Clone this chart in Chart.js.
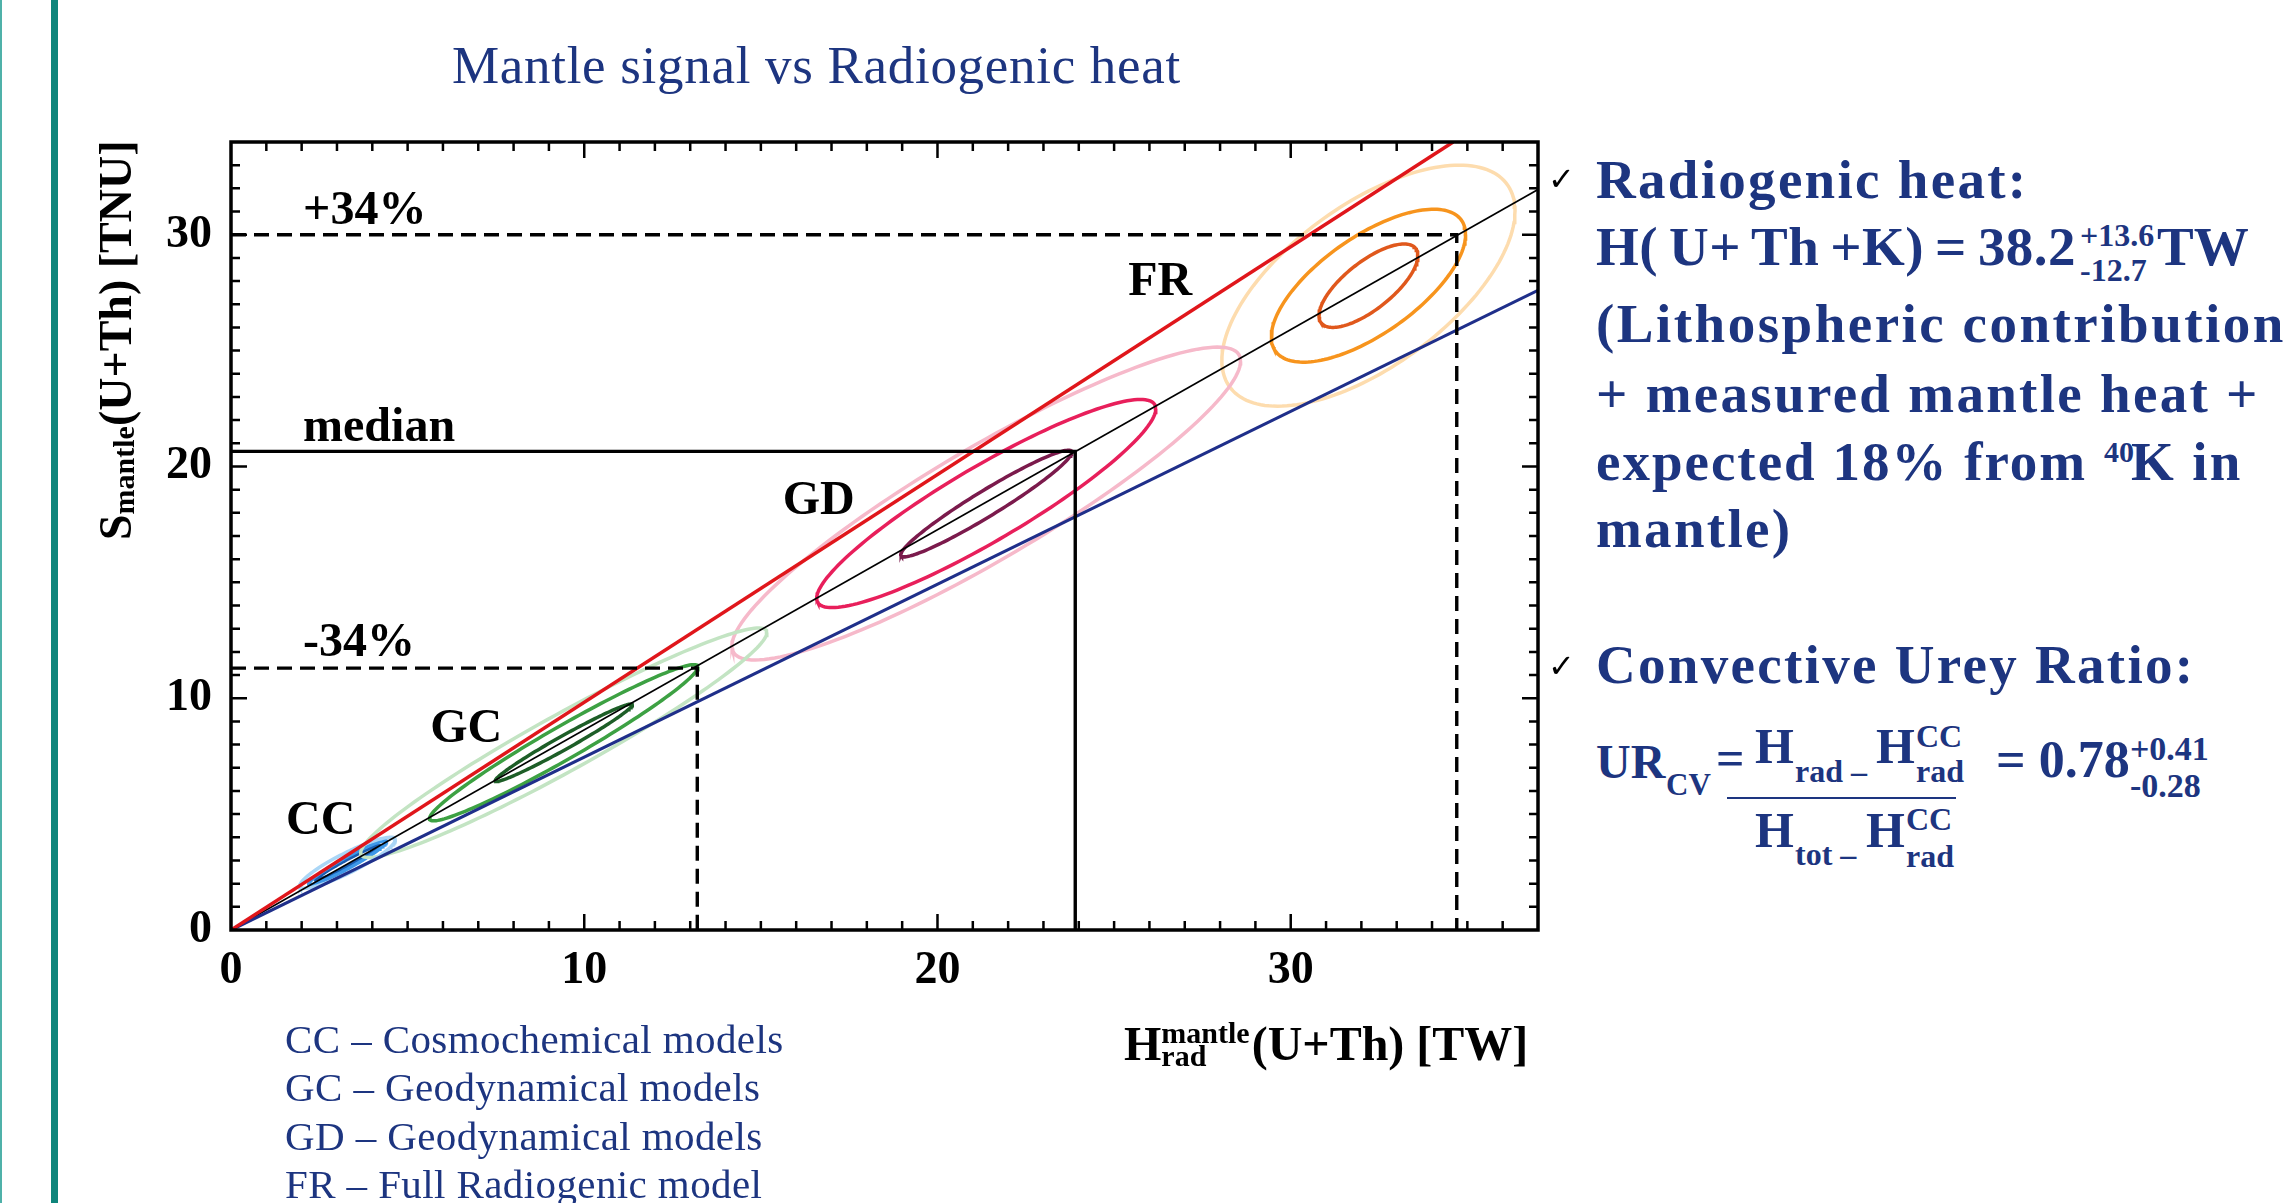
<!DOCTYPE html>
<html>
<head>
<meta charset="utf-8">
<title>Mantle signal vs Radiogenic heat</title>
<script src="https://cdn.jsdelivr.net/npm/chart.js@4.4.1/dist/chart.umd.min.js"></script>
<style>
    html, body { margin: 0; padding: 0; background: #fff; }
    body { width: 2294px; height: 1203px; position: relative; overflow: hidden; font-family: 'Liberation Serif', serif; }
    #plot { position: absolute; left: 0; top: 0; }
    .bar { position: absolute; top: 0; bottom: 0; }
    .txt { position: absolute; white-space: nowrap; line-height: 1; color: #1d3580; }
</style>
</head>
<body>
<div class="bar" style="left:0;width:2px;background:#4fb1a9"></div>
<div class="bar" style="left:51px;width:7px;background:#0f857b"></div>
<canvas id="plot" width="1580" height="1100"></canvas>
<script>
// axes
const heatMax = 37;
const signalMax = 34;
const heatTicks = [0, 10, 20, 30];
const signalTicks = [0, 10, 20, 30];

// model contours (CC, GC, GD, FR), levels inner -> outer
const models = ['CC', 'GC', 'GD', 'FR'];
const heatCenter = [3.3, 9.42, 21.38, 32.2];
const signalCenter = [2.9, 8.08, 18.4, 27.8];
const heatHalf = [[0.9, 1.1, 1.35], [1.94, 3.8, 5.75], [2.42, 4.8, 7.2], [1.4, 2.75, 4.15]];
const signalHalf = [[0.75, 0.95, 1.1], [1.67, 3.37, 4.95], [2.3, 4.49, 6.75], [1.8, 3.3, 5.2]];
const correlation = [[0.98, 0.96, 0.9], [0.98, 0.97, 0.96], [0.96, 0.91, 0.91], [0.72, 0.67, 0.62]];

// straight lines through the origin
const upperHeat = [0, 34.6];
const upperSignal = [0, 34];
const lowerHeat = [0, 37];
const lowerSignal = [0, 27.6];
const centralHeat = [0, 37];
const centralSignal = [0, 31.95];

// +34% / median / -34%
const levelNames = ['+34%', 'median', '-34%'];
const levelSignal = [30, 20.65, 11.3];
const levelHeat = [34.7, 23.9, 13.2];

const legendLines = ['CC – Cosmochemical models', 'GC – Geodynamical models', 'GD – Geodynamical models', 'FR – Full Radiogenic model'];

// styles
const contourColors = [
    ['#1a5cb0', '#3d98e8', '#aad6f6'],
    ['#1d5e27', '#3da143', '#c3e4c3'],
    ['#7b1a4c', '#e81f5b', '#f6b9ca'],
    ['#e0581c', '#f7941d', '#fddcae']
];
const plotLabels = [
    { text: levelNames[0], x: 2.04, y: 30.45 },
    { text: levelNames[1], x: 2.04, y: 21.1 },
    { text: levelNames[2], x: 2.04, y: 11.84 },
    { text: models[3], x: 25.4, y: 27.4 },
    { text: models[2], x: 15.62, y: 17.96 },
    { text: models[1], x: 5.64, y: 8.11 },
    { text: models[0], x: 1.56, y: 4.16 }
];
const serif = '"Liberation Serif", serif';

function toPoints(xs, ys) {
    let pts = [];
    for (let i = 0; i < xs.length; i++) {
        pts.push({ x: xs[i], y: ys[i] });
    }
    return pts;
}

function contourPoints(cx, cy, hx, hy, rho) {
    let phi = Math.acos(rho);
    let pts = [];
    for (let i = 0; i <= 160; i++) {
        let t = i / 160 * 2 * Math.PI;
        pts.push({ x: cx + hx * Math.cos(t), y: cy + hy * Math.cos(t - phi) });
    }
    return pts;
}

function lineSet(points, color, width, dash, order) {
    return {
        data: points,
        showLine: true,
        borderColor: color,
        borderWidth: width,
        borderDash: dash,
        pointRadius: 0,
        fill: false,
        tension: 0,
        order: order
    };
}

let datasets = [];
for (let m = 0; m < models.length; m++) {
    for (let k = 0; k < 3; k++) {
        let pts = contourPoints(heatCenter[m], signalCenter[m], heatHalf[m][k], signalHalf[m][k], correlation[m][k]);
        datasets.push(lineSet(pts, contourColors[m][k], 3.5, [], 30 - k * 5));
    }
}
datasets.push(lineSet(toPoints(centralHeat, centralSignal), '#000', 1.6, [], 6));
datasets.push(lineSet(toPoints(upperHeat, upperSignal), '#e0161b', 3.5, [], 5));
datasets.push(lineSet(toPoints(lowerHeat, lowerSignal), '#1f2f8a', 3.2, [], 5));
for (let i = 0; i < levelNames.length; i++) {
    let pts = toPoints([0, levelHeat[i], levelHeat[i]], [levelSignal[i], levelSignal[i], 0]);
    let dash = levelNames[i] == 'median' ? [] : [15, 8];
    datasets.push(lineSet(pts, '#000', 3.4, dash, 1));
}

// inward ticks, frame, labels and axis titles
const framePlugin = {
    id: 'framePlugin',
    afterDatasetsDraw(chart) {
        let ctx = chart.ctx;
        let a = chart.chartArea;
        let xs = chart.scales.x;
        let ys = chart.scales.y;
        ctx.save();
        ctx.strokeStyle = '#000';
        ctx.lineWidth = 2.5;
        ctx.beginPath();
        for (let v = 1; v < heatMax; v++) {
            let px = xs.getPixelForValue(v);
            let len = v % 10 == 0 ? 16 : 9;
            ctx.moveTo(px, a.bottom); ctx.lineTo(px, a.bottom - len);
            ctx.moveTo(px, a.top); ctx.lineTo(px, a.top + len);
        }
        for (let v = 1; v < signalMax; v++) {
            let py = ys.getPixelForValue(v);
            let len = v % 10 == 0 ? 16 : 9;
            ctx.moveTo(a.left, py); ctx.lineTo(a.left + len, py);
            ctx.moveTo(a.right, py); ctx.lineTo(a.right - len, py);
        }
        ctx.stroke();
        ctx.lineWidth = 3.5;
        ctx.strokeRect(a.left, a.top, a.right - a.left, a.bottom - a.top);

        ctx.fillStyle = '#000';
        ctx.font = 'bold 48px ' + serif;
        ctx.textAlign = 'left';
        ctx.textBaseline = 'alphabetic';
        plotLabels.forEach(l => {
            ctx.fillText(l.text, xs.getPixelForValue(l.x), ys.getPixelForValue(l.y));
        });
        ctx.restore();
    },
    afterDraw(chart) {
        let ctx = chart.ctx;
        ctx.save();
        ctx.fillStyle = '#000';
        ctx.textAlign = 'left';
        ctx.textBaseline = 'alphabetic';

        // y title, rotated
        ctx.translate(131, 540);
        ctx.rotate(-Math.PI / 2);
        let pos = 0;
        ctx.font = 'bold 46px ' + serif;
        ctx.fillText('S', pos, 0);
        pos += ctx.measureText('S').width;
        ctx.font = 'bold 30px ' + serif;
        ctx.fillText('mantle', pos, 3);
        pos += ctx.measureText('mantle').width;
        ctx.font = 'bold 46px ' + serif;
        ctx.fillText('(U+Th) [TNU]', pos, 0);
        ctx.setTransform(1, 0, 0, 1, 0, 0);

        // x title
        let x = 1124;
        ctx.font = 'bold 48px ' + serif;
        ctx.fillText('H', x, 1060);
        x += ctx.measureText('H').width;
        ctx.font = 'bold 30px ' + serif;
        ctx.fillText('mantle', x, 1043);
        ctx.fillText('rad', x, 1066);
        x += ctx.measureText('mantle').width + 2;
        ctx.font = 'bold 48px ' + serif;
        ctx.fillText('(U+Th) [TW]', x, 1060);
        ctx.restore();
    }
};

new Chart(document.getElementById('plot'), {
    type: 'scatter',
    data: { datasets: datasets },
    options: {
        responsive: false,
        animation: false,
        devicePixelRatio: 1,
        layout: { padding: { left: 0, top: 142, right: 42, bottom: 0 } },
        plugins: { legend: { display: false }, tooltip: { enabled: false } },
        scales: {
            x: {
                type: 'linear',
                min: 0,
                max: heatMax,
                grid: { display: false, drawTicks: false },
                border: { display: false },
                afterBuildTicks: s => { s.ticks = heatTicks.map(v => ({ value: v })); },
                afterFit: s => { s.height = 170; },
                ticks: { padding: 14, color: '#000', font: { family: serif, size: 46, weight: 'bold' } }
            },
            y: {
                type: 'linear',
                min: 0,
                max: signalMax,
                grid: { display: false, drawTicks: false },
                border: { display: false },
                afterBuildTicks: s => { s.ticks = signalTicks.map(v => ({ value: v })); },
                afterFit: s => { s.width = 231; },
                ticks: { padding: 19, color: '#000', font: { family: serif, size: 46, weight: 'bold' } }
            }
        }
    },
    plugins: [framePlugin]
});

// slide text
function placeText(text, x, baseline, size, bold, extra) {
    let el = document.createElement('div');
    el.className = 'txt';
    el.textContent = text;
    el.style.left = x + 'px';
    el.style.top = (baseline - 0.8375 * size) + 'px';
    el.style.fontSize = size + 'px';
    el.style.fontWeight = bold ? 'bold' : 'normal';
    if (extra) Object.assign(el.style, extra);
    document.body.appendChild(el);
    return el;
}

placeText('Mantle signal vs Radiogenic heat', 452, 83, 53, false, { letterSpacing: '0.7px' });

let legendBase = [1053, 1101.5, 1150, 1198];
for (let i = 0; i < legendLines.length; i++) {
    placeText(legendLines[i], 285, legendBase[i], 41, false, { letterSpacing: '0.4px' });
}

let wide = { letterSpacing: '2.3px' };
let check = { color: '#000', fontFamily: '"DejaVu Sans", sans-serif' };
placeText('✓', 1548, 190, 32, false, check);
placeText('Radiogenic heat:', 1596, 198, 55, true, wide);
placeText('H( U+ Th +K) = 38.2', 1596, 265, 55, true, { wordSpacing: '-3px', letterSpacing: '0.4px' });
placeText('+13.6', 2080, 246, 32, true);
placeText('-12.7', 2080, 281, 32, true);
placeText('TW', 2157, 265, 55, true);
placeText('(Lithospheric contribution', 1596, 342, 55, true, { letterSpacing: '2.5px' });
placeText('+ measured mantle heat +', 1596, 412, 55, true, wide);
placeText('expected 18% from', 1596, 480, 55, true, { letterSpacing: '2px' });
placeText('40', 2104, 462, 30, true);
placeText('K in', 2131, 480, 55, true, wide);
placeText('mantle)', 1596, 547, 55, true, wide);

placeText('✓', 1548, 677, 32, false, check);
placeText('Convective Urey Ratio:', 1596, 683, 55, true, wide);

// UR formula
placeText('UR', 1596, 778, 48, true);
placeText('CV', 1666, 795, 31, true);
placeText('=', 1716, 775, 50, true);
placeText('H', 1755, 763, 50, true);
placeText('rad –', 1795, 782, 32, true);
placeText('H', 1876, 763, 50, true);
placeText('CC', 1916, 747, 32, true);
placeText('rad', 1916, 782, 32, true);
let rule = document.createElement('div');
rule.style.cssText = 'position:absolute;left:1727px;top:797px;width:229px;height:2px;background:#1d3580';
document.body.appendChild(rule);
placeText('H', 1755, 847, 50, true);
placeText('tot –', 1795, 865, 32, true);
placeText('H', 1866, 847, 50, true);
placeText('CC', 1906, 830, 32, true);
placeText('rad', 1906, 867, 32, true);
placeText('= 0.78', 1996, 778, 52, true);
placeText('+0.41', 2130, 760, 34, true);
placeText('-0.28', 2130, 797, 34, true);
</script>
</body>
</html>
